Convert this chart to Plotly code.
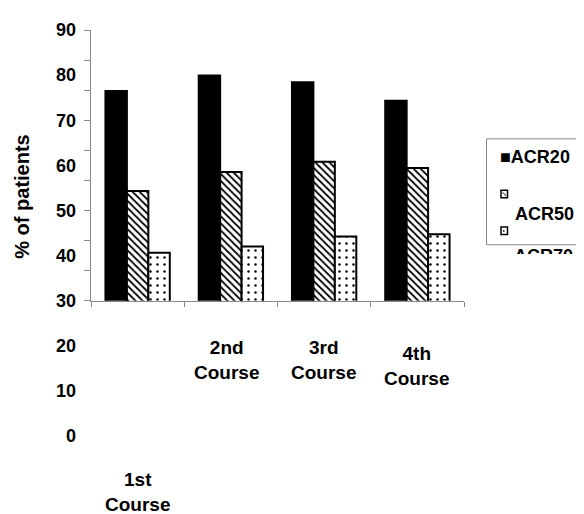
import plotly.graph_objects as go

# ---------------- data ----------------
categories = ["1st Course", "2nd Course", "3rd Course", "4th Course"]
category_labels = ["1st<br>Course", "2nd<br>Course", "3rd<br>Course", "4th<br>Course"]
series_names = ["ACR20", "ACR50", "ACR70"]
acr20 = [76.5, 79.9, 78.4, 74.3]
acr50 = [54.3, 58.5, 60.8, 59.4]
acr70 = [40.6, 42.0, 44.2, 44.7]
ytick_values = [0, 10, 20, 30, 40, 50, 60, 70, 80, 90]
ytick_labels = ["0", "10", "20", "30", "40", "50", "60", "70", "80", "90"]
y_title = "% of patients"

# ---------------- geometry helpers ----------------
# page has an 8px body margin, so reference pixel X is figure pixel X-8
OFF = 8
W, H = 584, 514
L, T = 91 - OFF, 22 - OFF
PW, PH = 373, 414
R = W - L - PW
B = H - T - PH


def px(x):
    return (x - OFF - L) / PW


def py(y):
    return (T + PH - (y - OFF)) / PH


FONT = "Liberation Sans, Arial, Helvetica, sans-serif"
GREY = "#8a8a8a"

fig = go.Figure()

styles = [
    dict(color="black", line=dict(color="black", width=2)),
    dict(color="white", line=dict(color="black", width=2),
         pattern=dict(shape="\\", fgcolor="black", bgcolor="white", size=5,
                      solidity=0.35, fillmode="replace")),
    dict(color="white", line=dict(color="black", width=2),
         pattern=dict(shape=".", fgcolor="black", bgcolor="white", size=7,
                      solidity=0.1, fillmode="replace")),
]
for name, vals, st in zip(series_names, [acr20, acr50, acr70], styles):
    fig.add_trace(go.Bar(x=categories, y=vals, name=name, marker=st,
                         showlegend=False, hoverinfo="x+y+name"))

# invisible helper traces so the tick-mark axis and label axis exist
fig.add_trace(go.Scatter(x=[categories[0]], y=[0], yaxis="y2", mode="markers",
                         marker=dict(opacity=0), showlegend=False, hoverinfo="skip"))
fig.add_trace(go.Scatter(x=[categories[0]], y=[0], yaxis="y3", mode="markers",
                         marker=dict(opacity=0), showlegend=False, hoverinfo="skip"))

annotations = []
# y title
annotations.append(dict(text="<b>" + y_title + "</b>", xref="paper", yref="paper",
                        x=px(22), y=py(192), xanchor="center", yanchor="middle",
                        textangle=-90, showarrow=False,
                        font=dict(family=FONT, size=20, color="black")))
# category labels (oddly placed, as in the original)
cat_label_y = [493, 358, 358, 365]
cat_label_dx = [0, -4, -1, -1]
for c, lab, yy, dx in zip(categories, category_labels, cat_label_y, cat_label_dx):
    annotations.append(dict(text="<b>" + lab + "</b>", xref="x", yref="paper",
                            x=c, y=py(yy), xshift=dx, xanchor="center",
                            yanchor="middle", showarrow=False,
                            font=dict(family=FONT, size=19, color="black")))
# legend texts
annotations.append(dict(text="<b>■" + series_names[0] + "</b>", xref="paper", yref="paper",
                        x=px(498), y=py(151), xanchor="left", yanchor="middle",
                        showarrow=False, font=dict(family=FONT, size=18, color="black")))
annotations.append(dict(text="<b>" + series_names[1] + "</b>", xref="paper", yref="paper",
                        x=px(513), y=py(210), xanchor="left", yanchor="middle",
                        showarrow=False, font=dict(family=FONT, size=18, color="black")))
annotations.append(dict(text="<b>" + series_names[2] + "</b>", xref="paper", yref="paper",
                        x=px(513), y=py(241), xanchor="left", yanchor="top",
                        height=8, valign="top", borderpad=0,
                        showarrow=False, font=dict(family=FONT, size=18, color="black")))

shapes = []
# legend box (runs off the right edge like the original)
shapes.append(dict(type="rect", xref="paper", yref="paper",
                   x0=px(486.5), x1=px(610), y0=py(133), y1=py(241),
                   line=dict(color=GREY, width=1), fillcolor="rgba(0,0,0,0)"))
# legend marker ACR50
shapes.append(dict(type="rect", xref="paper", yref="paper",
                   x0=px(501), x1=px(507.5), y0=py(185.5), y1=py(193),
                   line=dict(color="black", width=1.5), fillcolor="white"))
shapes.append(dict(type="line", xref="paper", yref="paper",
                   x0=px(502.5), x1=px(506), y0=py(187.5), y1=py(191),
                   line=dict(color="black", width=1)))
# legend marker ACR70
shapes.append(dict(type="rect", xref="paper", yref="paper",
                   x0=px(501), x1=px(507.5), y0=py(223), y1=py(230.5),
                   line=dict(color="black", width=1.5), fillcolor="white"))
shapes.append(dict(type="line", xref="paper", yref="paper",
                   x0=px(503), x1=px(504.5), y0=py(227), y1=py(227),
                   line=dict(color="black", width=1.5)))

fig.update_layout(
    width=W, height=H,
    margin=dict(l=L, r=R, t=T, b=B),
    paper_bgcolor="white", plot_bgcolor="rgba(0,0,0,0)",
    barmode="group", bargap=0.31, bargroupgap=0,
    showlegend=False,
    font=dict(family=FONT, color="black"),
    xaxis=dict(type="category", range=[-0.5, 3.5], anchor="y",
               showline=True, linecolor=GREY, linewidth=1,
               ticks="outside", tickson="boundaries", ticklen=5, tickcolor=GREY,
               showticklabels=False, showgrid=False, zeroline=False),
    yaxis=dict(domain=[py(298), 1], range=[30, 90], anchor="x",
               showline=False, ticks="", showticklabels=False,
               showgrid=False, zeroline=False),
    yaxis2=dict(overlaying="y", range=[0, 90], tick0=0, dtick=10, anchor="x",
                side="left", showline=True, linecolor=GREY, linewidth=1,
                ticks="outside", ticklen=6, tickcolor=GREY,
                showticklabels=False, showgrid=False, zeroline=False),
    yaxis3=dict(domain=[0, 1], range=[0, 90], anchor="free", position=0,
                tickmode="array", tickvals=ytick_values, ticktext=ytick_labels,
                tickfont=dict(family=FONT, size=18, color="black", weight="bold"),
                ticks="", ticklabelstandoff=15,
                showline=False, showgrid=False, zeroline=False),
    annotations=annotations,
    shapes=shapes,
)

fig.write_html("out.html")
